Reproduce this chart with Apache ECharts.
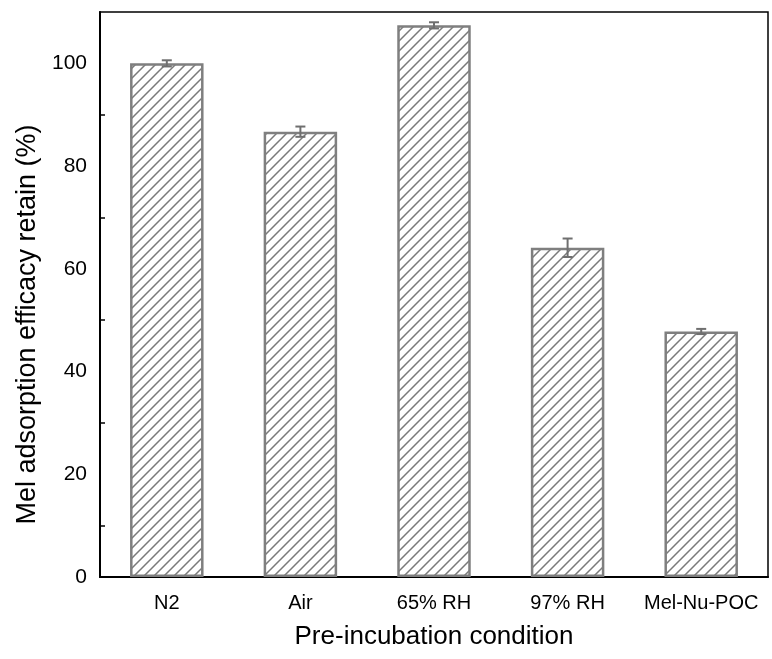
<!DOCTYPE html>
<html>
<head>
<meta charset="utf-8">
<script src="https://cdn.jsdelivr.net/npm/echarts@6/dist/echarts.min.js"></script>
<style>
  html, body { margin: 0; padding: 0; background: #fff; }
  #chart { width: 772px; height: 659px; }
</style>
</head>
<body>
<div id="chart"></div>
<script>
const conditions = ['N2', 'Air', '65% RH', '97% RH', 'Mel-Nu-POC']
const retain = [100, 86.7, 107.4, 64.1, 47.8]
const retainErr = [0.6, 1.0, 0.6, 1.8, 0.5]
const yTicks = [0, 20, 40, 60, 80, 100]

// hatch fill for the bars
const makeHatch = () => {
  const size = 10
  const c = document.createElement('canvas')
  c.width = size
  c.height = size
  const ctx = c.getContext('2d')
  ctx.fillStyle = '#ffffff'
  ctx.fillRect(0, 0, size, size)
  ctx.strokeStyle = '#7a7a7a'
  ctx.lineWidth = 1.5
  ctx.beginPath()
  ctx.moveTo(-1, size + 1)
  ctx.lineTo(size + 1, -1)
  ctx.moveTo(-1, 1)
  ctx.lineTo(1, -1)
  ctx.moveTo(size - 1, size + 1)
  ctx.lineTo(size + 1, size - 1)
  ctx.stroke()
  return c
}

const chart = echarts.init(document.getElementById('chart'))
const font = 'Liberation Sans, Arial, sans-serif'

const option = {
  backgroundColor: '#ffffff',
  animation: false,
  grid: {
    left: 100,
    right: 4,
    top: 12,
    bottom: 82,
    show: true,
    borderColor: '#000',
    borderWidth: 1.5
  },
  xAxis: {
    type: 'category',
    data: conditions,
    name: 'Pre-incubation condition',
    nameLocation: 'middle',
    nameGap: 47,
    nameTextStyle: { fontFamily: font, fontSize: 26, color: '#000' },
    axisLine: { lineStyle: { color: '#000', width: 2 } },
    axisTick: { inside: true, length: 7, lineStyle: { color: '#000', width: 1.5 } },
    axisLabel: { fontFamily: font, fontSize: 20, color: '#000', margin: 16, interval: 0 }
  },
  yAxis: {
    type: 'value',
    min: 0,
    max: 110,
    interval: 20,
    name: 'Mel adsorption efficacy retain (%)',
    nameLocation: 'middle',
    nameGap: 58,
    nameTextStyle: { fontFamily: font, fontSize: 27, color: '#000', padding: [0, 60, 0, 0] },
    axisLine: { show: true, lineStyle: { color: '#000', width: 2 } },
    axisTick: { inside: true, length: 10, lineStyle: { color: '#000', width: 1.5 } },
    minorTick: { show: true, splitNumber: 2, length: 5, lineStyle: { color: '#000', width: 1.5 } },
    splitLine: { show: false },
    axisLabel: {
      fontFamily: font,
      fontSize: 21,
      color: '#000',
      margin: 13,
      formatter: (v) => (yTicks.includes(v) ? String(v) : '')
    }
  },
  series: [
    {
      type: 'bar',
      data: retain,
      barWidth: '55%',
      itemStyle: {
        color: { image: makeHatch(), repeat: 'repeat' },
        borderColor: '#7f7f7f',
        borderWidth: 2.5
      }
    },
    {
      type: 'custom',
      data: retain.map((v, i) => [i, v - retainErr[i], v + retainErr[i]]),
      z: 10,
      renderItem: (params, api) => {
        const lo = api.coord([api.value(0), api.value(1)])
        const hi = api.coord([api.value(0), api.value(2)])
        const half = 5
        const style = { stroke: '#6f6f6f', lineWidth: 2 }
        return {
          type: 'group',
          children: [
            { type: 'line', shape: { x1: hi[0], y1: hi[1], x2: lo[0], y2: lo[1] }, style },
            { type: 'line', shape: { x1: hi[0] - half, y1: hi[1], x2: hi[0] + half, y2: hi[1] }, style },
            { type: 'line', shape: { x1: lo[0] - half, y1: lo[1], x2: lo[0] + half, y2: lo[1] }, style }
          ]
        }
      }
    }
  ]
}

chart.setOption(option)
</script>
</body>
</html>
